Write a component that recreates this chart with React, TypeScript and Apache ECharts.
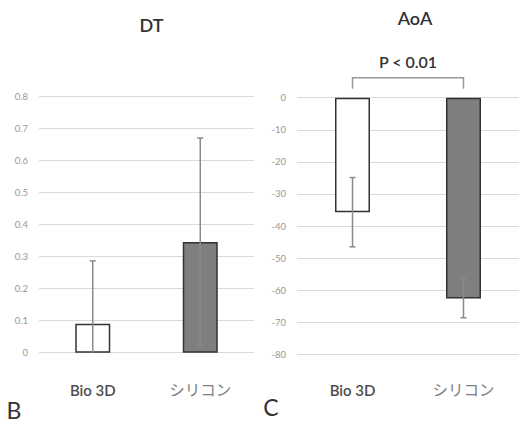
import React, { useEffect, useRef } from "react";
import * as echarts from "echarts";

const categories = ["Bio 3D", "シリコン"];
const dtMeans = [0.09, 0.345];
const dtLow = [0, 0.022];
const dtHigh = [0.286, 0.669];
const aoaMeans = [-35.7, -62.6];
const aoaLow = [-46.5, -68.6];
const aoaHigh = [-24.9, -56.3];
const dtAxis = { min: 0, max: 0.8, interval: 0.1 };
const aoaAxis = { min: -80, max: 0, interval: 10 };
const barFills = ["#ffffff", "#7f7f7f"];
const pLabel = "P < 0.01";

const FONT = "Lato, 'Noto Sans CJK JP', sans-serif";

function errorRender(capTop: boolean[], capBottom: boolean[]) {
  return (params: any, api: any) => {
    const i = api.value(0);
    const pLo = api.coord([i, api.value(1)]);
    const pHi = api.coord([i, api.value(2)]);
    const cap = 3;
    const st = { stroke: "#8a8a8a", lineWidth: 1.5 };
    const children: any[] = [
      { type: "line", shape: { x1: pLo[0], y1: pLo[1], x2: pHi[0], y2: pHi[1] }, style: st },
    ];
    if (capTop[i]) children.push({ type: "line", shape: { x1: pHi[0] - cap, y1: pHi[1], x2: pHi[0] + cap, y2: pHi[1] }, style: st });
    if (capBottom[i]) children.push({ type: "line", shape: { x1: pLo[0] - cap, y1: pLo[1], x2: pLo[0] + cap, y2: pLo[1] }, style: st });
    return { type: "group", children };
  };
}

export default function App() {
  const ref = useRef<HTMLDivElement>(null);
  useEffect(() => {
    if (!ref.current) return;
    const chart = echarts.init(ref.current, null, { renderer: "svg" });
    const xAxisBase = {
      type: "category" as const,
      data: categories,
      axisLine: { show: false },
      axisTick: { show: false },
      axisLabel: {
        margin: 30,
        fontFamily: FONT,
        formatter: (v: string, i: number) => (i === 0 ? `{a|${v}}` : `{b|${v}}`),
        rich: {
          a: { fontSize: 15, fontWeight: 600, color: "#4d4d4d", fontFamily: FONT },
          b: { fontSize: 15.5, fontWeight: 400, color: "#808080", fontFamily: FONT },
        },
      },
    };
    const yAxisBase = {
      type: "value" as const,
      axisLine: { show: false },
      axisTick: { show: false },
      splitLine: { lineStyle: { color: "#d9d9d9", width: 1 } },
      axisLabel: { fontSize: 9.5, color: "#999", margin: 11, fontFamily: FONT },
    };
    chart.setOption({
      animation: false,
      backgroundColor: "#fff",
      grid: [
        { left: 39, width: 215, top: 96, height: 256.7 },
        { left: 297, width: 222, top: 97.7, height: 256.6 },
      ],
      xAxis: [
        { ...xAxisBase, gridIndex: 0 },
        { ...xAxisBase, gridIndex: 1, axisLabel: { ...xAxisBase.axisLabel, margin: 28 } },
      ],
      yAxis: [
        { ...yAxisBase, gridIndex: 0, ...dtAxis },
        { ...yAxisBase, gridIndex: 1, ...aoaAxis },
      ],
      series: [
        {
          type: "bar",
          xAxisIndex: 0,
          yAxisIndex: 0,
          barWidth: 35,
          data: dtMeans.map((v, i) => ({
            value: v,
            itemStyle: { color: barFills[i], borderColor: "#333", borderWidth: 1.5 },
          })),
        },
        {
          type: "bar",
          xAxisIndex: 1,
          yAxisIndex: 1,
          barWidth: 35,
          data: aoaMeans.map((v, i) => ({
            value: v,
            itemStyle: { color: barFills[i], borderColor: "#333", borderWidth: 1.5 },
          })),
        },
        {
          type: "custom",
          xAxisIndex: 0,
          yAxisIndex: 0,
          z: 5,
          clip: false,
          encode: { x: 0, y: [1, 2] },
          data: categories.map((_, i) => [i, dtLow[i], dtHigh[i]]),
          renderItem: errorRender([true, true], [false, true]),
        },
        {
          type: "custom",
          xAxisIndex: 1,
          yAxisIndex: 1,
          z: 5,
          clip: false,
          encode: { x: 0, y: [1, 2] },
          data: categories.map((_, i) => [i, aoaLow[i], aoaHigh[i]]),
          renderItem: errorRender([true, true], [true, true]),
        },
        {
          type: "custom",
          xAxisIndex: 1,
          yAxisIndex: 1,
          z: 6,
          clip: false,
          data: [[0, aoaAxis.max]],
          renderItem: (params: any, api: any) => {
            const p0 = api.coord([0, api.value(1)]);
            const p1 = api.coord([1, api.value(1)]);
            const top = p0[1] - 20;
            const bot = p0[1] - 9;
            return {
              type: "group",
              children: [
                {
                  type: "polyline",
                  shape: { points: [[p0[0], bot], [p0[0], top], [p1[0], top], [p1[0], bot]] },
                  style: { stroke: "#999", lineWidth: 1.5, fill: "none" },
                },
                {
                  type: "text",
                  x: (p0[0] + p1[0]) / 2,
                  y: top - 16,
                  style: {
                    text: pLabel,
                    fontSize: 16,
                    fontWeight: 600,
                    fill: "#333",
                    fontFamily: FONT,
                    align: "center",
                    verticalAlign: "middle",
                  },
                },
              ],
            };
          },
        },
      ],
      graphic: [
        { type: "text", x: 151.5, y: 25, style: { text: "DT", fontSize: 18, fontWeight: 600, fill: "#333", fontFamily: FONT, align: "center", verticalAlign: "middle" } },
        { type: "text", x: 415, y: 18, style: { text: "AoA", fontSize: 18, fontWeight: 600, fill: "#333", fontFamily: FONT, align: "center", verticalAlign: "middle" } },
        { type: "text", x: 14, y: 410, style: { text: "B", fontSize: 23, fill: "#333", fontFamily: FONT, align: "center", verticalAlign: "middle" } },
        { type: "text", x: 271, y: 407, style: { text: "C", fontSize: 23, fill: "#333", fontFamily: FONT, align: "center", verticalAlign: "middle" } },
      ],
    });
    return () => chart.dispose();
  }, []);
  return <div ref={ref} style={{ width: 520, height: 435, position: "absolute", left: 0, top: 0 }} />;
}
